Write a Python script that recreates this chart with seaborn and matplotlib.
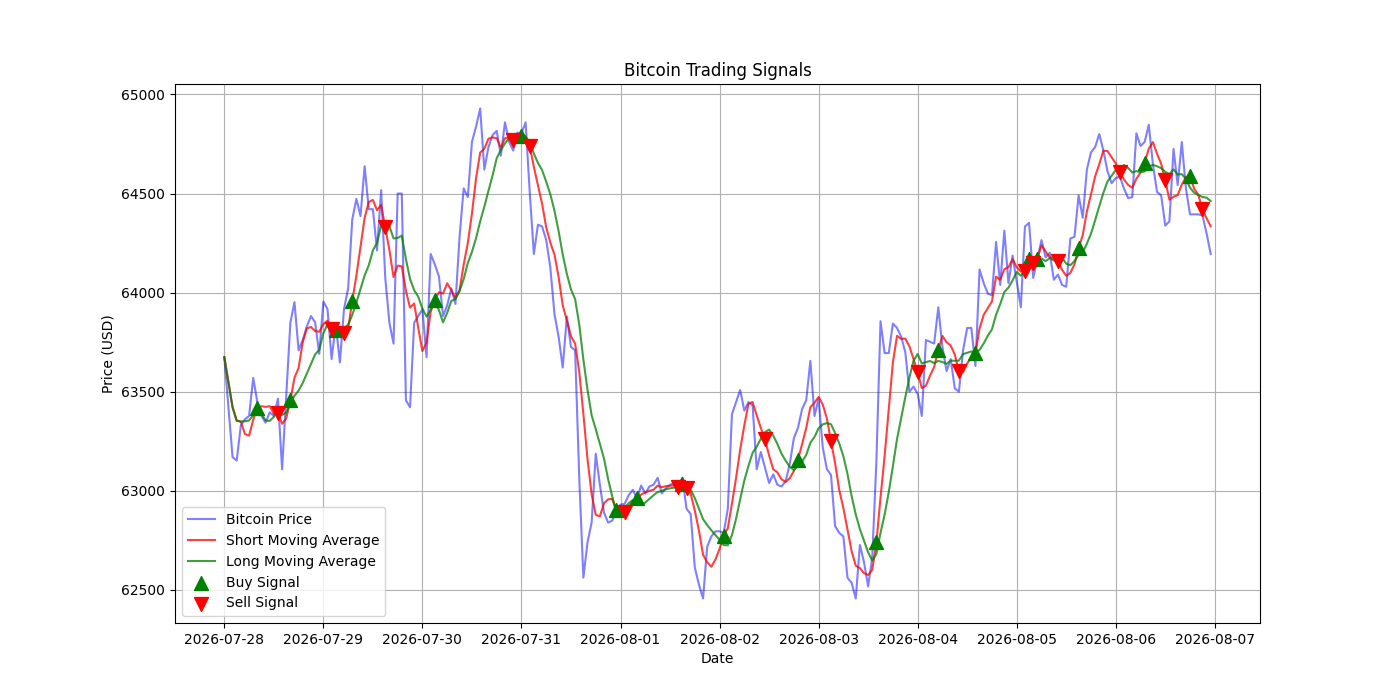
import numpy as np
import pandas as pd
import matplotlib
matplotlib.use("Agg")
import matplotlib.pyplot as plt
import seaborn as sns

# Hourly Bitcoin price (2026-07-28 00:00 onward)
start_time = "2026-07-28 00:00"
price = [
    63674, 63420, 63170, 63153, 63330, 63361, 63378, 63570, 63448, 63378,
    63344, 63396, 63378, 63465, 63109, 63480, 63848, 63952, 63709, 63761,
    63830, 63882, 63850, 63691, 63955, 63917, 63665, 63840, 63648, 63917,
    64021, 64369, 64473, 64386, 64638, 64421, 64421, 64213, 64517, 64074,
    63848, 63743, 64500, 64500, 63457, 63422, 63848, 63882, 63917, 63674,
    64195, 64143, 64082, 63882, 63935, 64021, 63943, 64282, 64526, 64482,
    64760, 64838, 64929, 64621, 64734, 64795, 64816, 64691, 64859, 64760,
    64717, 64807, 64804, 64859, 64508, 64195, 64343, 64334, 64265, 64126,
    63891, 63778, 63622, 63880, 63726, 63709, 63066, 62562, 62740, 62840,
    63187, 63030, 62890, 62840, 62850, 62900, 62930, 62935, 62979, 63005,
    62961, 63027, 62987, 63022, 63031, 63066, 62987, 63013, 63031, 63040,
    63031, 63066, 62909, 62883, 62614, 62527, 62457, 62718, 62770, 62796,
    62796, 62788, 62909, 63387, 63448, 63509, 63405, 63448, 63431, 63109,
    63196, 63118, 63040, 63083, 63031, 63022, 63048, 63135, 63265, 63318,
    63413, 63457, 63656, 63378, 63465, 63220, 63110, 63080, 62822, 62788,
    62770, 62562, 62536, 62457, 62727, 62640, 62518, 62666, 63150, 63856,
    63695, 63695, 63844, 63822, 63778, 63700, 63500, 63526, 63490, 63378,
    63761, 63752, 63743, 63926, 63726, 63604, 63665, 63517, 63500, 63709,
    63822, 63822, 63630, 64117, 64048, 63995, 63987, 64256, 64039, 64313,
    64048, 64187, 64056, 63926, 64334, 64352, 64074, 64169, 64265, 64178,
    64201, 64065, 64091, 64039, 64030, 64273, 64282, 64491, 64378, 64621,
    64708, 64734, 64800, 64717, 64612, 64552, 64578, 64586, 64525, 64477,
    64482, 64804, 64740, 64760, 64847, 64647, 64508, 64491, 64338, 64360,
    64725, 64543, 64760, 64525, 64395, 64395, 64395, 64390, 64300, 64195,
]
short_window = 5
long_window = 10

# Hour index (from start) of each signal
buy_hours = [8, 16, 27, 31, 51, 72, 95, 100, 111, 121, 139, 158, 173, 182,
             195, 197, 207, 223, 234]
sell_hours = [13, 26, 29, 39, 70, 74, 97, 110, 112, 131, 147, 168, 178, 194,
              196, 202, 217, 228, 237]

dates = pd.date_range(start=start_time, periods=len(price), freq="h")
data = pd.DataFrame({"Date": dates, "Price": price})
data["Short_MA"] = data["Price"].rolling(window=short_window, min_periods=1).mean()
data["Long_MA"] = data["Price"].rolling(window=long_window, min_periods=1).mean()

buys = data.iloc[buy_hours]
sells = data.iloc[sell_hours]

fig, ax = plt.subplots(figsize=(14, 7), dpi=100)
sns.lineplot(data=data, x="Date", y="Price", ax=ax, color="blue", alpha=0.5,
             label="Bitcoin Price", linewidth=1.5)
sns.lineplot(data=data, x="Date", y="Short_MA", ax=ax, color="red", alpha=0.75,
             label="Short Moving Average", linewidth=1.5)
sns.lineplot(data=data, x="Date", y="Long_MA", ax=ax, color="green", alpha=0.75,
             label="Long Moving Average", linewidth=1.5)
sns.scatterplot(data=buys, x="Date", y="Short_MA", ax=ax, marker="^", s=100,
                color="g", edgecolor="g", linewidth=1, label="Buy Signal", zorder=3)
sns.scatterplot(data=sells, x="Date", y="Short_MA", ax=ax, marker="v", s=100,
                color="r", edgecolor="r", linewidth=1, label="Sell Signal", zorder=3)

ax.set_title("Bitcoin Trading Signals")
ax.set_xlabel("Date")
ax.set_ylabel("Price (USD)")
ax.grid(True)
ax.legend(loc="lower left")
fig.savefig("out.png", dpi=100)
